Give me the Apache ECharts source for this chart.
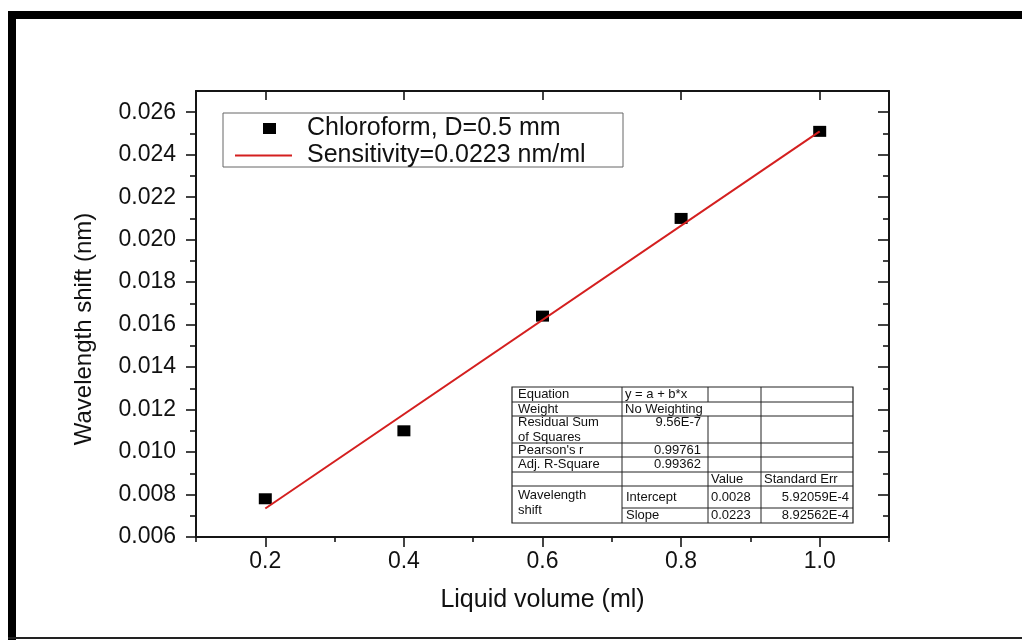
<!DOCTYPE html>
<html><head><meta charset="utf-8">
<script src="https://cdn.jsdelivr.net/npm/echarts@6/dist/echarts.min.js"></script>
<style>html,body{margin:0;padding:0;background:#fff}#c{width:1022px;height:640px}</style>
</head><body><div id="c"></div>
<script>
// ---- data ----
const volume = [0.2, 0.4, 0.6, 0.8, 1.0];
const shift = [0.0078, 0.0110, 0.0164, 0.0210, 0.0251];
const fitVolume = [0.2, 1.0];
const fitShift = [0.00734, 0.0251];
const xMajorTicks = [0.2, 0.4, 0.6, 0.8, 1.0];
const xMinorTicks = [0.1, 0.3, 0.5, 0.7, 0.9, 1.1];
const yMajorTicks = [0.006, 0.008, 0.010, 0.012, 0.014, 0.016, 0.018, 0.020, 0.022, 0.024, 0.026];
const yMinorTicks = [0.007, 0.009, 0.011, 0.013, 0.015, 0.017, 0.019, 0.021, 0.023, 0.025];
const seriesNames = ['Chloroform, D=0.5 mm', 'Sensitivity=0.0223 nm/ml'];
const tableCol1 = ['Equation', 'Weight', 'Residual Sum\nof Squares', "Pearson's r", 'Adj. R-Square', '', 'Wavelength\nshift'];
const tableCol2 = ['y = a + b*x', 'No Weighting', '9.56E-7', '0.99761', '0.99362', '', 'Intercept', 'Slope'];
const tableCol3 = ['', '', '', '', '', 'Value', '0.0028', '0.0223'];
const tableCol4 = ['', '', '', '', '', 'Standard Err', '5.92059E-4', '8.92562E-4'];

const FONT = "'Liberation Sans', Arial, sans-serif";
const AX = '#151515';
const RED = '#d41f1f';
const chart = echarts.init(document.getElementById('c'), null, {renderer: 'canvas'});

function xAx(extra) {
  return Object.assign({type: 'value', gridIndex: 0, min: 0.1, max: 1.1, interval: 0.1,
    splitLine: {show: false}, axisLabel: {show: false}, axisLine: {show: false}}, extra);
}
function yAx(extra) {
  return Object.assign({type: 'value', gridIndex: 0, min: 0.006, max: 0.027, interval: 0.001,
    splitLine: {show: false}, axisLabel: {show: false}, axisLine: {show: false}}, extra);
}
const lineSt = {color: AX, width: 2};
const tickSt = {color: AX, width: 1.6};

// table geometry
const tX = [512, 622, 708, 761, 853];
const tY = [387, 402, 416, 443, 457, 472, 486, 508, 523];
const tFont = '13px ' + FONT;
const g = [];
g.push({type: 'rect', shape: {x: 8, y: 11, width: 1014, height: 8}, style: {fill: '#000'}, silent: true});
g.push({type: 'rect', shape: {x: 8, y: 11, width: 8, height: 629}, style: {fill: '#000'}, silent: true});
g.push({type: 'rect', shape: {x: 8, y: 637, width: 1014, height: 2}, style: {fill: '#222'}, silent: true});
g.push({type: 'rect', shape: {x: 223, y: 113, width: 400, height: 54}, style: {fill: 'none', stroke: '#666', lineWidth: 1}, silent: true});
// table frame
g.push({type: 'rect', shape: {x: tX[0], y: tY[0], width: tX[4] - tX[0], height: tY[8] - tY[0]}, style: {fill: '#fff', stroke: '#222', lineWidth: 1.2}, z: 10, silent: true});
for (let i = 1; i <= 6; i++) {
  g.push({type: 'line', shape: {x1: tX[0], y1: tY[i], x2: tX[4], y2: tY[i]}, style: {stroke: '#222', lineWidth: 1}, z: 11, silent: true});
}
g.push({type: 'line', shape: {x1: tX[1], y1: tY[7], x2: tX[4], y2: tY[7]}, style: {stroke: '#222', lineWidth: 1}, z: 11, silent: true});
g.push({type: 'line', shape: {x1: tX[1], y1: tY[0], x2: tX[1], y2: tY[8]}, style: {stroke: '#222', lineWidth: 1}, z: 11, silent: true});
g.push({type: 'line', shape: {x1: tX[2], y1: tY[0], x2: tX[2], y2: tY[1]}, style: {stroke: '#222', lineWidth: 1}, z: 11, silent: true});
g.push({type: 'line', shape: {x1: tX[2], y1: tY[2], x2: tX[2], y2: tY[8]}, style: {stroke: '#222', lineWidth: 1}, z: 11, silent: true});
g.push({type: 'line', shape: {x1: tX[3], y1: tY[0], x2: tX[3], y2: tY[8]}, style: {stroke: '#222', lineWidth: 1}, z: 11, silent: true});
function tText(txt, x, y, align) {
  if (!txt) return;
  g.push({type: 'text', x: x, y: y, z: 12, silent: true,
    style: {text: txt, font: tFont, fill: '#111', align: align || 'left', verticalAlign: 'middle', lineHeight: 15}});
}
// rows: centre y for each logical row
const rowCY = [394.5, 409, 422.5, 450, 464.5, 479, 497, 515.5];
// column 1
tText(tableCol1[0], 518, rowCY[0]);
tText(tableCol1[1], 518, rowCY[1]);
tText(tableCol1[2], 518, 430);
tText(tableCol1[3], 518, rowCY[3]);
tText(tableCol1[4], 518, rowCY[4]);
tText(tableCol1[6], 518, 503);
// column 2
tText(tableCol2[0], 625, rowCY[0]);
tText(tableCol2[1], 625, rowCY[1]);
for (let i = 2; i <= 4; i++) tText(tableCol2[i], 701, rowCY[i], 'right');
tText(tableCol2[6], 626, rowCY[6]);
tText(tableCol2[7], 626, rowCY[7]);
// column 3
for (let i = 5; i <= 7; i++) tText(tableCol3[i], 711, rowCY[i]);
// column 4
tText(tableCol4[5], 764, rowCY[5]);
tText(tableCol4[6], 849, rowCY[6], 'right');
tText(tableCol4[7], 849, rowCY[7], 'right');

const option = {
  backgroundColor: '#fff',
  animation: false,
  grid: {left: 196, top: 91, width: 693, height: 446, containLabel: false},
  legend: [
    {data: [seriesNames[0]], left: 263, top: 116, padding: 0, itemWidth: 13, itemHeight: 11, selectedMode: false,
      textStyle: {fontSize: 25, color: '#111', fontFamily: FONT, padding: [0, 0, 0, 26]}},
    {data: [{name: seriesNames[1], icon: 'rect'}], left: 235, top: 143, padding: 0, itemWidth: 57, itemHeight: 2, selectedMode: false,
      itemStyle: {color: RED},
      textStyle: {fontSize: 25, color: '#111', fontFamily: FONT, padding: [0, 0, 0, 10]}}
  ],
  xAxis: [
    xAx({position: 'bottom', axisLine: {show: true, lineStyle: lineSt},
      axisTick: {show: true, customValues: xMajorTicks, length: 10, lineStyle: tickSt},
      axisLabel: {show: true, customValues: xMajorTicks, formatter: v => v.toFixed(1), fontSize: 23, color: '#111', fontFamily: FONT, margin: 13},
      name: 'Liquid volume (ml)', nameLocation: 'middle', nameGap: 51,
      nameTextStyle: {fontSize: 25, color: '#111', fontFamily: FONT}}),
    xAx({position: 'bottom', axisTick: {show: true, customValues: xMinorTicks, length: 5, lineStyle: tickSt}}),
    xAx({position: 'top', axisLine: {show: true, lineStyle: lineSt},
      axisTick: {show: true, inside: true, customValues: xMajorTicks, length: 9, lineStyle: tickSt}})
  ],
  yAxis: [
    yAx({position: 'left', axisLine: {show: true, lineStyle: lineSt},
      axisTick: {show: true, customValues: yMajorTicks, length: 10, lineStyle: tickSt},
      axisLabel: {show: true, customValues: yMajorTicks, formatter: v => v.toFixed(3), fontSize: 23, color: '#111', fontFamily: FONT, margin: 20},
      name: 'Wavelength shift (nm)', nameLocation: 'middle', nameGap: 100,
      nameTextStyle: {fontSize: 24, color: '#111', fontFamily: FONT, padding: [0, 30, 0, 0]}}),
    yAx({position: 'left', axisTick: {show: true, customValues: yMinorTicks, length: 6, lineStyle: tickSt}}),
    yAx({position: 'right', axisLine: {show: true, lineStyle: lineSt},
      axisTick: {show: true, inside: true, customValues: yMajorTicks, length: 11, lineStyle: tickSt}}),
    yAx({position: 'right', axisTick: {show: true, inside: true, customValues: yMinorTicks, length: 6, lineStyle: tickSt}})
  ],
  series: [
    {name: seriesNames[0], type: 'scatter', xAxisIndex: 0, yAxisIndex: 0, z: 2,
      symbol: 'rect', symbolSize: [13, 11], itemStyle: {color: '#000', opacity: 1},
      data: volume.map((v, i) => [v, shift[i]])},
    {name: seriesNames[1], type: 'line', xAxisIndex: 0, yAxisIndex: 0, z: 3,
      symbol: 'none', showSymbol: false, lineStyle: {color: RED, width: 2}, itemStyle: {color: RED},
      data: fitVolume.map((v, i) => [v, fitShift[i]])}
  ],
  graphic: g
};
chart.setOption(option);
</script></body></html>
